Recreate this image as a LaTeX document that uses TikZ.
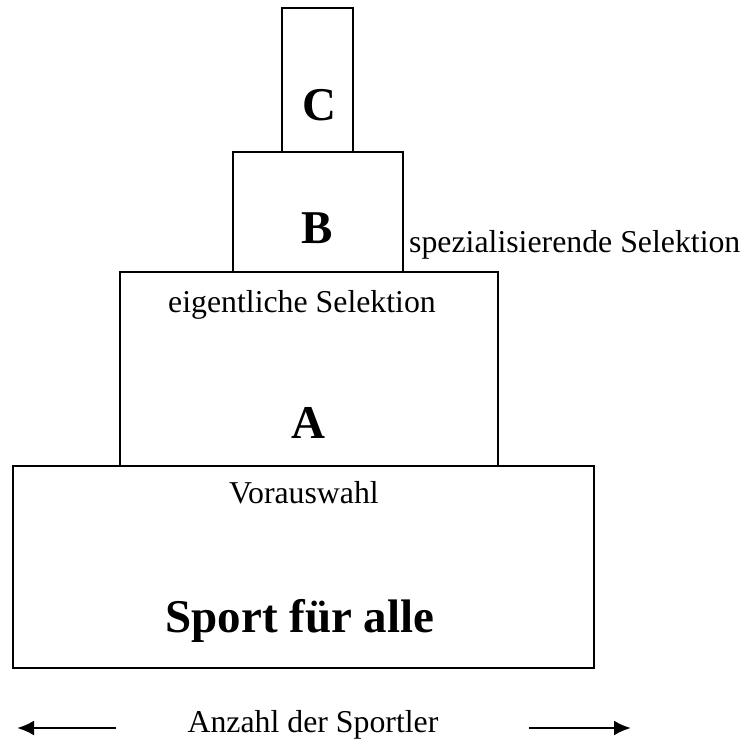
\documentclass[tikz,border=0pt]{standalone}
\usepackage{fontspec}
\setmainfont{Liberation Serif}
\usetikzlibrary{arrows.meta,positioning}

\begin{document}
\begin{tikzpicture}[
    x=1pt, y=-1pt,
    stufe/.style={
        draw,
        line width=2pt,
        inner sep=0pt
    },
    buchstabe/.style={
        anchor=base,
        inner sep=0pt,
        font=\fontsize{47}{56}\selectfont\bfseries
    },
    beschriftung/.style={
        anchor=base,
        inner sep=0pt,
        font=\fontsize{31.8}{38}\selectfont
    },
    pfeil/.style={-{Latex[length=17pt,width=15pt]}, line width=2.6pt}
]

% page frame
\useasboundingbox (0,0) rectangle (745,740);

% Stufen der Pyramide
\node[stufe, minimum width=71pt, minimum height=144pt] (stufeC) at (317.5,80) {};
\node[stufe, minimum width=170pt, minimum height=120pt] (stufeB) at (318,212) {};
\node[stufe, minimum width=378pt, minimum height=194pt] (stufeA) at (309,369) {};
\node[stufe, minimum width=581pt, minimum height=202pt] (basis) at (303.5,567) {};

% Buchstaben
\node[buchstabe] (labelC) at (319,120) {C};
\node[buchstabe] (labelB) at (317,243) {B};
\node[buchstabe] (labelA) at (308,438) {A};
\node[buchstabe] (sport) at (300,632) {Sport für alle};

% Texte
\node[beschriftung] (vorauswahl) at (304,503) {Vorauswahl};
\node[beschriftung] (eigentlich) at (302,312) {eigentliche Selektion};
\node[beschriftung, anchor=base west] (spezial) at (409,252) {spezialisierende Selektion};
\node[beschriftung] (anzahl) at (313,732) {Anzahl der Sportler};

% Pfeile
\coordinate (linksstart) at (116,728);
\coordinate (linksende) at (17,728);
\coordinate (rechtsstart) at (529,728);
\coordinate (rechtsende) at (631,728);
\draw[pfeil] (linksstart) -- (linksende);
\draw[pfeil] (rechtsstart) -- (rechtsende);

\end{tikzpicture}
\end{document}
